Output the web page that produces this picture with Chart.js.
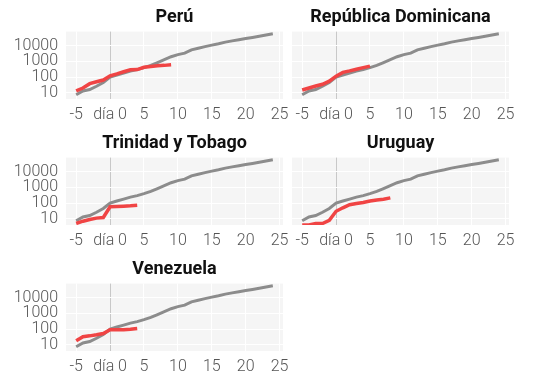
<!DOCTYPE html>
<html>
<head>
<meta charset="utf-8">
<script src="https://cdn.jsdelivr.net/npm/chart.js@4.4.1/dist/chart.umd.min.js"></script>
<style>
  html, body { margin: 0; padding: 0; background: #fff; }
  #wrap { position: relative; width: 546px; height: 391px; overflow: hidden; }
  canvas { position: absolute; }
</style>
</head>
<body>
<div id="wrap"></div>
<script>
// días desde el caso 100 (eje x)
const days = [-5, -4, -3, -2, -1, 0, 1, 2, 3, 4, 5, 6, 7, 8, 9, 10, 11, 12, 13, 14, 15, 16, 17, 18, 19, 20, 21, 22, 23, 24];

// curva de referencia (gris), igual en todos los paneles
const referencia = [7.5, 13, 16, 26, 45, 100, 135, 180, 240, 300, 400, 560, 850, 1300, 2000, 2700, 3400, 5500, 7000, 8800, 11000, 13500, 17000, 20500, 24500, 29000, 34000, 40000, 48000, 58000];

// casos por país (rojo), empezando en el día -5
const peru = [13, 20, 38, 50, 65, 120, 160, 220, 290, 300, 420, 480, 530, 560, 610];
const repDominicana = [15, 20, 27, 35, 55, 115, 200, 250, 320, 400, 500];
const trinidad = [5, 7, 9, 11, 12, 58, 60, 63, 67, 73];
const uruguay = [4, 4, 5, 5, 8, 30, 50, 79, 94, 110, 135, 158, 175, 215];
const venezuela = [18, 33, 37, 43, 52, 92, 90, 92, 98, 110];

const panelTitles = ['Perú', 'República Dominicana', 'Trinidad y Tobago', 'Uruguay', 'Venezuela'];
const panelSeries = [peru, repDominicana, trinidad, uruguay, venezuela];

const xTicks = [-5, 0, 5, 10, 15, 20, 25];
const yTicks = [10, 100, 1000, 10000];

const RED = '#f04444';
const GREY = '#8c8c8c';
const TICK_FONT = { family: 'Roboto', size: 16, weight: '300' };

const plotBg = {
    id: 'plotBg',
    beforeDraw(chart) {
        const { ctx, chartArea: a } = chart;
        ctx.save();
        ctx.fillStyle = '#f5f5f5';
        ctx.fillRect(a.left, a.top, a.right - a.left, a.bottom - a.top);
        ctx.restore();
    }
};

function toPoints(values) {
    return values.map((v, i) => ({ x: days[i], y: v }));
}

function makePanel(index) {
    const col = index % 2;
    const row = Math.floor(index / 2);
    const isLeft = col === 0;

    const canvas = document.createElement('canvas');
    const w = isLeft ? 300 : 266;
    const h = 125;
    canvas.width = w;
    canvas.height = h;
    canvas.style.left = (isLeft ? 0 : 280) + 'px';
    canvas.style.top = (row * 126) + 'px';
    canvas.style.width = w + 'px';
    canvas.style.height = h + 'px';
    document.getElementById('wrap').appendChild(canvas);

    new Chart(canvas, {
        type: 'line',
        data: {
            datasets: [
                {
                    data: toPoints(panelSeries[index]),
                    borderColor: RED,
                    borderWidth: 3.5,
                    pointRadius: 0,
                    tension: 0
                },
                {
                    data: toPoints(referencia),
                    borderColor: GREY,
                    borderWidth: 3,
                    pointRadius: 0,
                    tension: 0
                }
            ]
        },
        options: {
            responsive: false,
            animation: false,
            layout: { padding: { left: 0, right: isLeft ? 17 : 37, top: 0, bottom: 0 } },
            plugins: {
                legend: { display: false },
                tooltip: { enabled: false },
                title: {
                    display: true,
                    text: panelTitles[index],
                    fullSize: false,
                    color: '#111',
                    font: { family: 'Roboto', size: 18, weight: 'bold' },
                    padding: { top: 7, bottom: 3 }
                }
            },
            scales: {
                x: {
                    type: 'linear',
                    min: -6.5,
                    max: 25.5,
                    afterBuildTicks: (scale) => { scale.ticks = xTicks.map(v => ({ value: v })); },
                    afterFit: (scale) => { scale.height = 26; },
                    border: { display: false },
                    grid: {
                        drawTicks: false,
                        lineWidth: 1,
                        color: (c) => (c.tick && c.tick.value === 0 ? '#c8c8c8' : '#ffffff')
                    },
                    ticks: {
                        padding: 6,
                        color: '#555',
                        font: TICK_FONT,
                        maxRotation: 0,
                        autoSkip: false,
                        callback: (v) => (v === 0 ? 'día 0' : v)
                    }
                },
                y: {
                    type: 'logarithmic',
                    min: 4,
                    max: 80000,
                    afterBuildTicks: (scale) => { scale.ticks = yTicks.map(v => ({ value: v })); },
                    afterFit: (scale) => { scale.width = isLeft ? 66 : 12; },
                    border: { display: false },
                    grid: { drawTicks: false, color: '#ffffff', lineWidth: 1 },
                    ticks: {
                        display: isLeft,
                        padding: 8,
                        color: '#555',
                        font: TICK_FONT,
                        autoSkip: false,
                        callback: (v) => String(v)
                    }
                }
            }
        },
        plugins: [plotBg]
    });
}

panelTitles.forEach((t, i) => makePanel(i));
</script>
</body>
</html>
